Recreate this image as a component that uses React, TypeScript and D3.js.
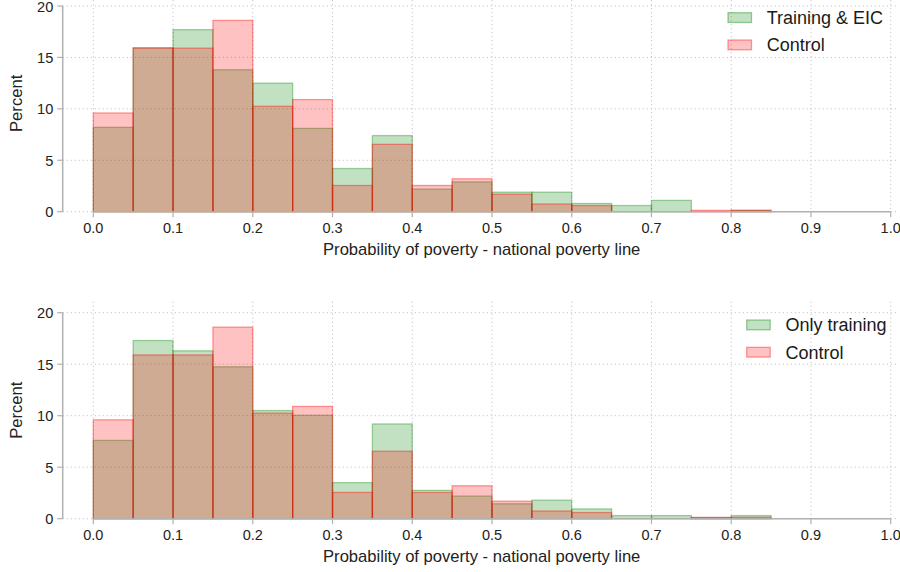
import React from "react";
import * as d3 from "d3";

const binStarts = [0, 0.05, 0.1, 0.15, 0.2, 0.25, 0.3, 0.35, 0.4, 0.45, 0.5, 0.55, 0.6, 0.65, 0.7, 0.75, 0.8];
const binWidth = 0.05;

const trainingEIC = [8.2, 15.95, 17.7, 13.8, 12.5, 8.1, 4.2, 7.4, 2.2, 2.9, 1.9, 1.9, 0.8, 0.6, 1.1, 0, 0.13];
const onlyTraining = [7.6, 17.3, 16.3, 14.75, 10.5, 10.05, 3.5, 9.2, 2.75, 2.2, 1.45, 1.8, 0.95, 0.3, 0.3, 0.1, 0.3];
const control = [9.6, 15.9, 15.9, 18.6, 10.25, 10.9, 2.55, 6.55, 2.55, 3.2, 1.7, 0.75, 0.6, 0, 0, 0.13, 0.13];

const xTicks = [0, 0.1, 0.2, 0.3, 0.4, 0.5, 0.6, 0.7, 0.8, 0.9, 1.0];
const yTicks = [0, 5, 10, 15, 20];

const xTitle = "Probability of poverty - national poverty line";
const yTitle = "Percent";

const panels = [
  { treat: trainingEIC, treatLabel: "Training & EIC", top: 6, bottom: 211.7, regionTop: 0, legendX: 728, legendY: 12.7 },
  { treat: onlyTraining, treatLabel: "Only training", top: 312.7, bottom: 518.7, regionTop: 301.7, legendX: 746.7, legendY: 320 },
];

const FONT = "'Liberation Sans', Arial, sans-serif";
const GREEN = "#008000";
const RED = "#ff0000";

function Panel({ p }: { p: (typeof panels)[number] }) {
  const x = d3.scaleLinear().domain([0, 1]).range([93.3, 890.7]);
  const y = d3.scaleLinear().domain([0, 20]).range([p.bottom, p.top]);
  const axisX = 62.7;
  const bars = (vals: number[], color: string, sOp: number) =>
    vals.map((v, i) =>
      v > 0 ? (
        <rect
          key={i}
          x={x(binStarts[i])}
          y={y(v)}
          width={x(binStarts[i] + binWidth) - x(binStarts[i])}
          height={y(0) - y(v)}
          fill={color}
          fillOpacity={0.24}
          stroke={color}
          strokeOpacity={sOp}
          strokeWidth={1.3}
        />
      ) : null
    );
  return (
    <g>
      {yTicks.map((t) => (
        <line key={"gy" + t} x1={axisX} x2={897} y1={y(t)} y2={y(t)} stroke="#c4c4c4" strokeWidth={1} strokeDasharray="1.2 2.8" />
      ))}
      {xTicks.map((t) => (
        <line key={"gx" + t} x1={x(t)} x2={x(t)} y1={p.regionTop} y2={p.bottom} stroke="#c4c4c4" strokeWidth={1} strokeDasharray="1.2 2.8" />
      ))}
      {bars(p.treat, GREEN, 0.35)}
      {bars(control, RED, 0.38)}
      <line x1={axisX} x2={axisX} y1={y(20)} y2={y(0)} stroke="#b0b0b0" strokeWidth={1.5} />
      {yTicks.map((t) => (
        <g key={"yt" + t}>
          <line x1={axisX - 5.5} x2={axisX} y1={y(t)} y2={y(t)} stroke="#b0b0b0" strokeWidth={1.2} />
          <text x={53.3} y={y(t) + 5.6} textAnchor="end" fontSize={14.6} fill="#222" fontFamily={FONT}>
            {d3.format("d")(t)}
          </text>
        </g>
      ))}
      <line x1={x(0)} x2={x(1)} y1={y(0)} y2={y(0)} stroke="#b0b0b0" strokeWidth={1.5} />
      {xTicks.map((t) => (
        <g key={"xt" + t}>
          <line x1={x(t)} x2={x(t)} y1={y(0)} y2={y(0) + 5.5} stroke="#b0b0b0" strokeWidth={1.2} />
          <text x={x(t)} y={y(0) + 21.5} textAnchor="middle" fontSize={14.5} fill="#222" fontFamily={FONT}>
            {d3.format(".1f")(t)}
          </text>
        </g>
      ))}
      <text x={481.7} y={y(0) + 43.3} textAnchor="middle" fontSize={16.6} fill="#222" fontFamily={FONT}>
        {xTitle}
      </text>
      <text
        transform={`translate(21.7, ${(p.top + p.bottom) / 2 - 5.5}) rotate(-90)`}
        textAnchor="middle"
        fontSize={16.6}
        fill="#222"
        fontFamily={FONT}
      >
        {yTitle}
      </text>
      {[
        { label: p.treatLabel, color: GREEN },
        { label: "Control", color: RED },
      ].map((l, i) => (
        <g key={l.label}>
          <rect
            x={p.legendX}
            y={p.legendY + i * 27.3}
            width={23.5}
            height={9.8}
            fill={l.color}
            fillOpacity={0.24}
            stroke={l.color}
            strokeOpacity={0.38}
            strokeWidth={1.3}
          />
          <text x={p.legendX + 38.7} y={p.legendY + 11.3 + i * 27.3} fontSize={18} fill="#1a1a1a" fontFamily={FONT}>
            {l.label}
          </text>
        </g>
      ))}
    </g>
  );
}

export default function App() {
  return (
    <svg width={900} height={572} style={{ position: "absolute", left: 0, top: 0, background: "#fff" }}>
      <rect width={900} height={572} fill="#fff" />
      {panels.map((p, i) => (
        <Panel key={i} p={p} />
      ))}
    </svg>
  );
}
